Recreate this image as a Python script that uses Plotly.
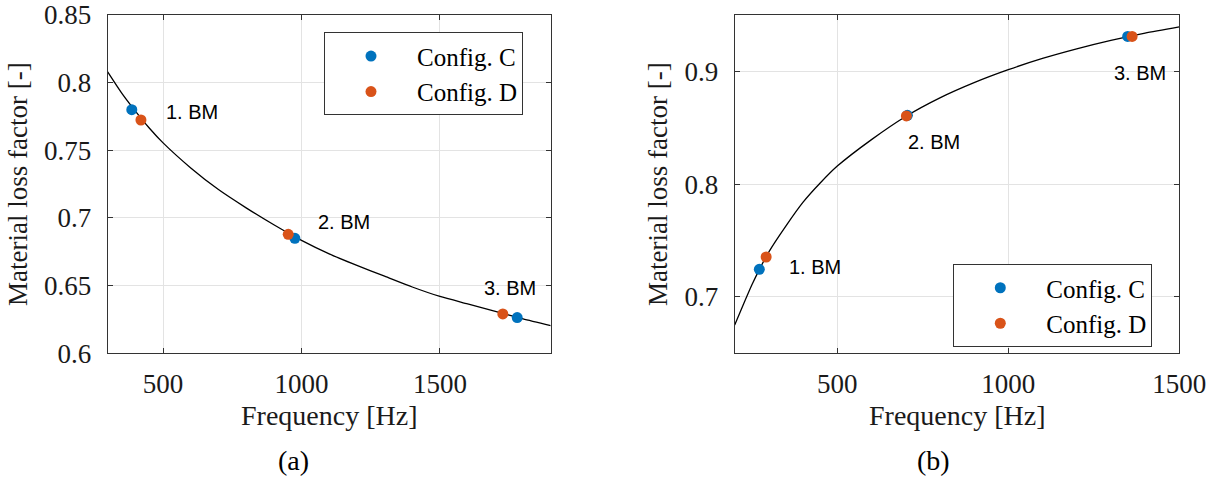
import plotly.graph_objects as go

# ---------------- data ----------------
# (a) left panel: fitted curve and measured points
a_fit_f = [300, 350, 400, 450, 500, 600, 700, 800, 900, 1000, 1100, 1200, 1300, 1400,
           1500, 1600, 1700, 1800, 1900]
a_fit_eta = [0.808, 0.7925, 0.779, 0.7665, 0.7555, 0.737, 0.721, 0.7075, 0.695, 0.6835,
             0.6735, 0.665, 0.657, 0.649, 0.642, 0.6365, 0.631, 0.6255, 0.6205]
a_C_f = [387, 976, 1779]
a_C_eta = [0.780, 0.685, 0.6264]
a_D_f = [420, 952, 1727]
a_D_eta = [0.7724, 0.6879, 0.6291]
a_lbl = ["1. BM", "2. BM", "3. BM"]
a_lbl_f = [503, 1051, 1653]
a_lbl_eta = [0.778, 0.6973, 0.648]

# (b) right panel
b_fit_f = [200, 225, 250, 275, 300, 350, 400, 450, 500, 600, 700, 800, 900, 1000, 1100,
           1200, 1300, 1400, 1500]
b_fit_eta = [0.675, 0.693, 0.7105, 0.726, 0.740, 0.763, 0.784, 0.801, 0.816, 0.8395,
             0.860, 0.8765, 0.890, 0.9015, 0.9115, 0.920, 0.9275, 0.934, 0.9395]
b_C_f = [272, 705, 1349]
b_C_eta = [0.7245, 0.861, 0.931]
b_D_f = [292, 702, 1362]
b_D_eta = [0.7354, 0.8605, 0.931]
b_lbl = ["1. BM", "2. BM", "3. BM"]
b_lbl_f = [354, 701, 1302]
b_lbl_eta = [0.7268, 0.8376, 0.8983]

xtick_vals = [500, 1000, 1500]
xtick_text = ["500", "1000", "1500"]
a_ytick_vals = [0.6, 0.65, 0.7, 0.75, 0.8, 0.85]
a_ytick_text = ["0.6", "0.65", "0.7", "0.75", "0.8", "0.85"]
b_ytick_vals = [0.7, 0.8, 0.9]
b_ytick_text = ["0.7", "0.8", "0.9"]
x_title = "Frequency [Hz]"
y_title = "Material loss factor [-]"
captions = ["(a)", "(b)"]

BLUE = "#0072BD"
ORANGE = "#D95319"
SERIF = "Liberation Serif"
SANS = "Liberation Sans"
TXT = "#1a1a1a"
W, H = 1216, 484

# plot-area geometry (pixels)
A_X0, A_X1 = 107.7, 550.7
B_X0, B_X1 = 734.7, 1179.3
Y_TOP, Y_BOT = 15.0, 353.3

fig = go.Figure()

line_style = dict(color="black", width=1.3, shape="spline", smoothing=0.6)

# left panel
fig.add_trace(go.Scatter(x=a_fit_f, y=a_fit_eta, mode="lines", line=line_style,
                         showlegend=False, hoverinfo="skip", xaxis="x", yaxis="y"))
fig.add_trace(go.Scatter(x=a_C_f, y=a_C_eta, mode="markers", name="Config. C",
                         marker=dict(color=BLUE, size=11), xaxis="x", yaxis="y",
                         legend="legend"))
fig.add_trace(go.Scatter(x=a_D_f, y=a_D_eta, mode="markers", name="Config. D",
                         marker=dict(color=ORANGE, size=11), xaxis="x", yaxis="y",
                         legend="legend"))

# right panel
fig.add_trace(go.Scatter(x=b_fit_f, y=b_fit_eta, mode="lines", line=line_style,
                         showlegend=False, hoverinfo="skip", xaxis="x2", yaxis="y2"))
fig.add_trace(go.Scatter(x=b_C_f, y=b_C_eta, mode="markers", name="Config. C",
                         marker=dict(color=BLUE, size=11), xaxis="x2", yaxis="y2",
                         legend="legend2"))
fig.add_trace(go.Scatter(x=b_D_f, y=b_D_eta, mode="markers", name="Config. D",
                         marker=dict(color=ORANGE, size=11), xaxis="x2", yaxis="y2",
                         legend="legend2"))

annotations = []
for t, f, e in zip(a_lbl, a_lbl_f, a_lbl_eta):
    annotations.append(dict(x=f, y=e, xref="x", yref="y", text=t, showarrow=False,
                            xanchor="left", yanchor="middle",
                            font=dict(family=SANS, size=20, color="black")))
for t, f, e in zip(b_lbl, b_lbl_f, b_lbl_eta):
    annotations.append(dict(x=f, y=e, xref="x2", yref="y2", text=t, showarrow=False,
                            xanchor="left", yanchor="middle",
                            font=dict(family=SANS, size=20, color="black")))
# x-axis titles placed just under the tick labels
for cx in [(A_X0 + A_X1) / 2, (B_X0 + B_X1) / 2]:
    annotations.append(dict(x=cx / W, y=1 - 415 / H, xref="paper", yref="paper",
                            text=x_title, showarrow=False, xanchor="center",
                            yanchor="middle",
                            font=dict(family=SERIF, size=28, color=TXT)))
# panel captions
for cap, cx in zip(captions, [293, 933]):
    annotations.append(dict(x=cx / W, y=1 - 460 / H, xref="paper", yref="paper", text=cap,
                            showarrow=False, xanchor="center", yanchor="middle",
                            font=dict(family=SERIF, size=28, color="black")))


def axis(**kw):
    d = dict(showline=True, linecolor="#333333", linewidth=1.2, mirror="allticks",
             ticks="inside", ticklen=5, tickwidth=1, tickcolor="#333333",
             showgrid=True, gridcolor="#e3e3e3", gridwidth=1, zeroline=False,
             automargin=False,
             tickfont=dict(family=SERIF, size=27, color=TXT))
    d.update(kw)
    return d


ydom = [1 - Y_BOT / H, 1 - Y_TOP / H]

fig.update_layout(
    width=W, height=H,
    font=dict(family=SERIF, color=TXT),
    margin=dict(l=0, r=0, t=0, b=0),
    paper_bgcolor="white", plot_bgcolor="white",
    xaxis=axis(domain=[A_X0 / W, A_X1 / W], range=[300, 1900],
               tickvals=xtick_vals, ticktext=xtick_text, ticklabelstandoff=6,
               anchor="y"),
    yaxis=axis(domain=ydom, range=[0.6, 0.85], tickvals=a_ytick_vals, ticktext=a_ytick_text,
               ticklabelstandoff=10,
               title=dict(text=y_title, standoff=8,
                          font=dict(family=SERIF, size=27, color=TXT)),
               anchor="x"),
    xaxis2=axis(domain=[B_X0 / W, B_X1 / W], range=[200, 1500],
                tickvals=xtick_vals, ticktext=xtick_text, ticklabelstandoff=6,
                anchor="y2"),
    yaxis2=axis(domain=ydom, range=[0.65, 0.95], tickvals=b_ytick_vals, ticktext=b_ytick_text,
                ticklabelstandoff=10,
                title=dict(text=y_title, standoff=8,
                           font=dict(family=SERIF, size=27, color=TXT)),
                anchor="x2"),
    legend=dict(x=324 / W, y=1 - 32.3 / H, xanchor="left", yanchor="top",
                bgcolor="white", bordercolor="#333333", borderwidth=1,
                itemwidth=82, font=dict(family=SERIF, size=25, color="black")),
    legend2=dict(x=953.3 / W, y=1 - 264 / H, xanchor="left", yanchor="top",
                 bgcolor="white", bordercolor="#333333", borderwidth=1,
                 itemwidth=82, font=dict(family=SERIF, size=25, color="black")),
    annotations=annotations,
)

fig.write_html("out.html")
